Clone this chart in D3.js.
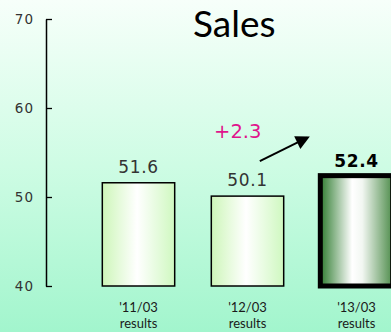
<!DOCTYPE html>
<html>
<head>
<meta charset="utf-8">
<script src="https://cdn.jsdelivr.net/npm/d3@7"></script>
<style>
  html, body { margin: 0; padding: 0; background: #fff; }
  svg { display: block; }
</style>
</head>
<body>
<svg id="chart" width="391" height="332"></svg>
<script>
// Sales by fiscal year-end (results)
const categories = ["'11/03", "'12/03", "'13/03"];
const subLabels = ["results", "results", "results"];
const values = [51.6, 50.1, 52.4];
const yTicks = [40, 50, 60, 70];
const title = "Sales";

const W = 391, H = 332;
const svg = d3.select("#chart");
const defs = svg.append("defs");

// background wash: pale at top, mint at bottom
const bg = defs.append("linearGradient").attr("id", "bg")
  .attr("x1", 0).attr("y1", 0).attr("x2", 0).attr("y2", 1);
bg.append("stop").attr("offset", "0%").attr("stop-color", "#f7fffa");
bg.append("stop").attr("offset", "50%").attr("stop-color", "#cefce4");
bg.append("stop").attr("offset", "100%").attr("stop-color", "#a2f5cd");
svg.append("rect").attr("width", W).attr("height", H).attr("fill", "url(#bg)");

// light bar fill
const gLight = defs.append("linearGradient").attr("id", "barLight")
  .attr("x1", 0).attr("y1", 0).attr("x2", 1).attr("y2", 0);
gLight.append("stop").attr("offset", "0%").attr("stop-color", "#cdf6b9");
gLight.append("stop").attr("offset", "48%").attr("stop-color", "#ffffff");
gLight.append("stop").attr("offset", "100%").attr("stop-color", "#cff8c0");

// highlighted (latest) bar fill
const gDark = defs.append("linearGradient").attr("id", "barDark")
  .attr("x1", 0).attr("y1", 0).attr("x2", 1).attr("y2", 0);
gDark.append("stop").attr("offset", "0%").attr("stop-color", "#2f7c30");
gDark.append("stop").attr("offset", "44%").attr("stop-color", "#ffffff");
gDark.append("stop").attr("offset", "58%").attr("stop-color", "#f2f7f2");
gDark.append("stop").attr("offset", "100%").attr("stop-color", "#4f8d4c");

// arrowhead
defs.append("marker").attr("id", "arrowHead")
  .attr("viewBox", "0 0 10 10").attr("refX", 8).attr("refY", 5)
  .attr("markerWidth", 7.5).attr("markerHeight", 7)
  .attr("markerUnits", "strokeWidth")
  .attr("orient", "auto")
  .append("path").attr("d", "M0,0 L10,5 L0,10 Z").attr("fill", "#000");

const x = d3.scaleBand().domain(categories).range([84, 411])
  .paddingInner(0.336).paddingOuter(0.168);
const y = d3.scaleLinear().domain([40, 70]).range([286, 19]);
const axisX = 46;

// y axis: ticks point into the plot
const yAxis = d3.axisLeft(y).tickValues(yTicks).tickFormat(d3.format("d"))
  .tickSizeInner(-6).tickSizeOuter(0).tickPadding(12);
const ga = svg.append("g").attr("transform", `translate(${axisX},0)`).call(yAxis);
ga.select(".domain").attr("stroke", "#000").attr("stroke-width", 1.5);
ga.selectAll(".tick line").attr("stroke", "#000").attr("stroke-width", 1.3);
ga.selectAll(".tick text")
  .attr("fill", "#333")
  .style("font-family", "'DejaVu Sans', sans-serif")
  .style("font-size", "13.5px")
  .style("letter-spacing", "1px");

const last = categories.length - 1;

// bars
svg.append("g").selectAll("rect").data(values).join("rect")
  .attr("x", (d, i) => x(categories[i]))
  .attr("y", d => y(d))
  .attr("width", x.bandwidth())
  .attr("height", d => y(40) - y(d))
  .attr("fill", (d, i) => i === last ? "url(#barDark)" : "url(#barLight)")
  .attr("stroke", "#000")
  .attr("stroke-width", (d, i) => i === last ? 5 : 1.5);

// value labels
svg.append("g").selectAll("text").data(values).join("text")
  .attr("x", (d, i) => x(categories[i]) + x.bandwidth() / 2)
  .attr("y", (d, i) => y(d) - (i === last ? 9 : 10))
  .attr("text-anchor", "middle")
  .attr("fill", (d, i) => i === last ? "#000" : "#333")
  .style("font-family", "'DejaVu Sans', sans-serif")
  .style("font-size", "17px")
  .style("font-weight", (d, i) => i === last ? "bold" : "normal")
  .style("letter-spacing", "0.6px")
  .text(d => d.toFixed(1));

// category labels (two lines)
const xl = svg.append("g").selectAll("text").data(categories).join("text")
  .attr("text-anchor", "middle")
  .attr("fill", "#1a1a1a")
  .style("font-family", "Lato, 'Open Sans', sans-serif")
  .style("font-size", "13px");
xl.append("tspan")
  .attr("x", d => x(d) + x.bandwidth() / 2)
  .attr("y", 312)
  .text(d => d);
xl.append("tspan")
  .attr("x", d => x(d) + x.bandwidth() / 2)
  .attr("y", 328)
  .text((d, i) => subLabels[i]);

// change annotation from previous year to latest
const delta = values[last] - values[last - 1];
const bw = x.bandwidth();
const ax1 = x(categories[last - 1]) + bw * 0.67;
const ay1 = y(values[last - 1]) - 35;
const ax2 = x(categories[last]) - 13;
const ay2 = y(values[last]) - 38;
svg.append("line")
  .attr("x1", ax1).attr("y1", ay1).attr("x2", ax2).attr("y2", ay2)
  .attr("stroke", "#000").attr("stroke-width", 2)
  .attr("marker-end", "url(#arrowHead)");
svg.append("text")
  .attr("x", ax1 - 22).attr("y", ay1 - 23)
  .attr("text-anchor", "middle")
  .attr("fill", "#e0148c")
  .style("font-family", "'DejaVu Sans', sans-serif")
  .style("font-size", "19.5px")
  .text(d3.format("+.1f")(delta));

// title
svg.append("text")
  .attr("x", 193).attr("y", 37)
  .attr("fill", "#000")
  .style("font-family", "Lato, 'Open Sans', sans-serif")
  .style("font-size", "37px")
  .text(title);
</script>
</body>
</html>
